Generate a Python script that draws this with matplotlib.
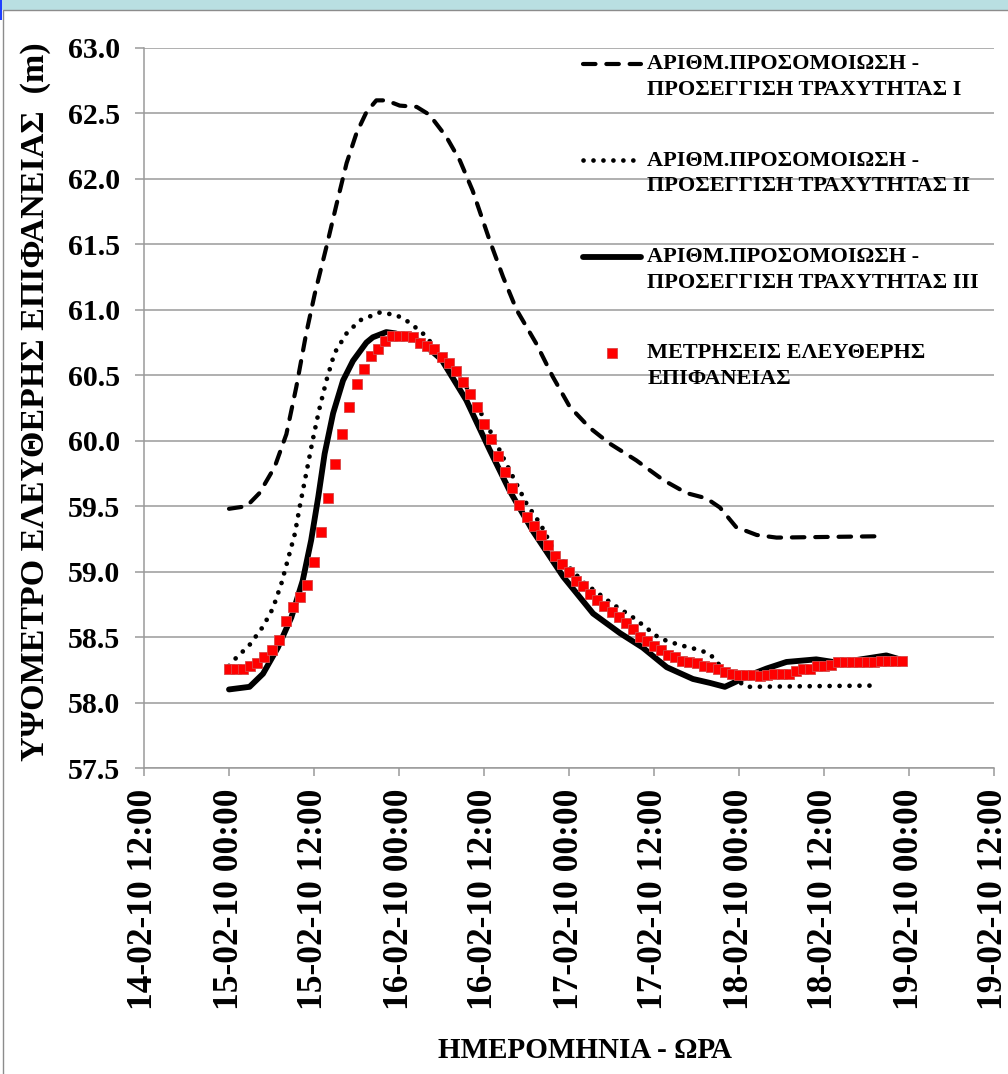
from datetime import datetime
import numpy as np
import matplotlib
matplotlib.use('Agg')
import matplotlib.pyplot as plt
import matplotlib.dates as mdates
from matplotlib.patches import Rectangle

plt.rcParams['font.family'] = ['Liberation Serif', 'DejaVu Serif']
plt.rcParams['font.weight'] = 'bold'

# hours after 15-02-10 00:00
h_rough1 = [0, 2.5, 4.3, 6.45, 8.1, 9.5, 10.9, 12.1, 13.75, 15.2, 16.6, 18, 19.4, 20.8,
            22.2, 24.1, 26.5, 28.3, 30.7, 32.6, 34.4, 36.8, 38.7, 40.6, 43.4, 45.7,
            48.1, 50.9, 53.7, 57.5, 61.3, 64.6, 67.4, 69.3, 71.6, 74.5, 77.3, 91.5]
z_rough1 = [59.48, 59.50, 59.60, 59.80, 60.05, 60.41, 60.82, 61.12, 61.48, 61.81, 62.12,
            62.35, 62.51, 62.60, 62.60, 62.56, 62.55, 62.49, 62.32, 62.14, 61.91, 61.53,
            61.25, 61.00, 60.74, 60.49, 60.26, 60.10, 59.98, 59.85, 59.70, 59.60, 59.56,
            59.49, 59.34, 59.28, 59.26, 59.27]

h_rough2 = [0, 0.8, 2.9, 4.8, 6.2, 7.4, 8.3, 9.3, 10, 10.9, 11.8, 12.7, 13.75, 14.9, 16.6,
            18.5, 21.3, 23.6, 25, 27.2, 30, 33, 36, 39, 42, 44, 46, 50, 54.2, 56.8, 58,
            60.8, 63.6, 66.5, 67.9, 70, 73, 91.6]
z_rough2 = [58.28, 58.33, 58.44, 58.58, 58.72, 58.91, 59.09, 59.29, 59.50, 59.75, 60.00,
            60.23, 60.46, 60.67, 60.82, 60.92, 60.98, 60.96, 60.92, 60.83, 60.66, 60.46,
            60.17, 59.84, 59.52, 59.36, 59.15, 58.92, 58.75, 58.66, 58.61, 58.49, 58.44,
            58.40, 58.37, 58.24, 58.12, 58.13]

h_rough3 = [0, 2.9, 4.8, 6.9, 8.8, 10.4, 11.6, 12.6, 13.5, 14.7, 16.1, 17.5, 19.4, 20.3,
            22.2, 23.5, 27, 30, 33.5, 36.8, 39.6, 42.9, 47.2, 51.4, 55.2, 58.4, 61.8,
            65.5, 67.9, 70, 71.6, 74, 75.9, 78.7, 82.9, 85.3, 88, 92.8, 94.7]
z_rough3 = [58.10, 58.12, 58.22, 58.42, 58.65, 58.93, 59.24, 59.57, 59.90, 60.21, 60.46,
            60.61, 60.75, 60.79, 60.83, 60.82, 60.76, 60.62, 60.31, 59.93, 59.62, 59.31,
            58.96, 58.68, 58.53, 58.42, 58.27, 58.18, 58.15, 58.12, 58.16, 58.22, 58.26,
            58.31, 58.33, 58.31, 58.32, 58.36, 58.33]

# hourly measurements, 0..95 h
z_meas = [58.26, 58.26, 58.26, 58.28, 58.30, 58.35, 58.40, 58.48, 58.62, 58.73,
          58.81, 58.90, 59.07, 59.30, 59.56, 59.82, 60.05, 60.26, 60.43, 60.55,
          60.65, 60.70, 60.76, 60.80, 60.80, 60.80, 60.79, 60.75, 60.72, 60.70,
          60.64, 60.59, 60.53, 60.45, 60.36, 60.26, 60.13, 60.01, 59.88, 59.76,
          59.64, 59.51, 59.42, 59.35, 59.28, 59.20, 59.12, 59.06, 59.00, 58.93,
          58.89, 58.83, 58.78, 58.74, 58.69, 58.65, 58.61, 58.56, 58.50, 58.47,
          58.43, 58.40, 58.36, 58.35, 58.32, 58.31, 58.30, 58.28, 58.27, 58.26,
          58.23, 58.22, 58.21, 58.21, 58.21, 58.20, 58.21, 58.22, 58.22, 58.22,
          58.24, 58.26, 58.26, 58.28, 58.28, 58.29, 58.31, 58.31, 58.31, 58.31,
          58.31, 58.31, 58.32, 58.32, 58.32, 58.32]
h_meas = np.arange(len(z_meas))

labels = ['ΑΡΙΘΜ.ΠΡΟΣΟΜΟΙΩΣΗ -\nΠΡΟΣΕΓΓΙΣΗ ΤΡΑΧΥΤΗΤΑΣ Ι',
          'ΑΡΙΘΜ.ΠΡΟΣΟΜΟΙΩΣΗ -\nΠΡΟΣΕΓΓΙΣΗ ΤΡΑΧΥΤΗΤΑΣ ΙΙ',
          'ΑΡΙΘΜ.ΠΡΟΣΟΜΟΙΩΣΗ -\nΠΡΟΣΕΓΓΙΣΗ ΤΡΑΧΥΤΗΤΑΣ ΙΙΙ',
          'ΜΕΤΡΗΣΕΙΣ ΕΛΕΥΘΕΡΗΣ\nΕΠΙΦΑΝΕΙΑΣ']

t0 = mdates.date2num(datetime(2010, 2, 15))


def totime(h):
    return t0 + np.asarray(h, dtype=float) / 24.0


W, H = 1008, 1074
fg = plt.figure(figsize=(W / 100, H / 100), dpi=100)
ax = fg.add_axes([144 / W, 1 - 768 / H, 850 / W, 720 / H])

l1, = ax.plot(totime(h_rough1), z_rough1, color='k', lw=3.0, ls=(0, (3.0, 2.6)),
              dash_capstyle='round', label=labels[0])
l2, = ax.plot(totime(h_rough2), z_rough2, color='k', lw=3.4, ls=(0, (0.01, 2.1)),
              dash_capstyle='round', label=labels[1])
l3, = ax.plot(totime(h_rough3), z_rough3, color='k', lw=4.2, solid_capstyle='round',
              label=labels[2])
l4, = ax.plot(totime(h_meas), z_meas, ls='none', marker='s', ms=6.6, mfc='#FF0000',
              mec='#D84848', mew=0.6, label=labels[3], zorder=5)

# %% axes
ax.set_ylim(57.5, 63.0)
ax.set_yticks(np.arange(57.5, 63.01, 0.5))
ax.yaxis.set_major_formatter(matplotlib.ticker.FormatStrFormatter('%.1f'))
ax.set_xlim(totime(-12), totime(108))
ax.xaxis.set_major_locator(mdates.HourLocator(byhour=[0, 12]))
ax.xaxis.set_major_formatter(mdates.DateFormatter('%d-%m-%y %H:%M'))
ax.grid(True, axis='y', color='#9A9A9A', lw=1.1)
ax.set_axisbelow(True)
for s in ('top', 'right'):
    ax.spines[s].set_visible(False)
for s in ('left', 'bottom'):
    ax.spines[s].set_color('#9A9A9A')
    ax.spines[s].set_linewidth(1.1)
ax.tick_params(axis='y', length=6.5, width=1.1, color='#9A9A9A', pad=11, labelsize=21.5)
ax.tick_params(axis='x', length=6, width=1.1, color='#9A9A9A', pad=9, labelsize=25.5,
               labelrotation=90)
for t in ax.get_xticklabels() + ax.get_yticklabels():
    t.set_fontweight('bold')

fg.text(36 / W, 1 - 402 / H, 'ΥΨΟΜΕΤΡΟ ΕΛΕΥΘΕΡΗΣ ΕΠΙΦΑΝΕΙΑΣ  (m)', rotation=90,
        ha='center', va='center', fontsize=24.5, fontweight='bold')
fg.text(585 / W, 1 - 1050 / H, 'ΗΜΕΡΟΜΗΝΙΑ - ΩΡΑ', ha='center', va='center',
        fontsize=21, fontweight='bold')

# legend: a blank first line keeps the handle level with the first text line
leg = ax.legend([l1, l2, l3, l4], [' \n' + s for s in labels], loc='upper left',
                bbox_to_anchor=(583 / W, 1 - 29 / H), bbox_transform=fg.transFigure,
                frameon=False, fontsize=16, handlelength=2.6, handletextpad=0.3,
                borderpad=0, borderaxespad=0, labelspacing=1.15, markerscale=1.0)
for t in leg.get_texts():
    t.set_linespacing(1.36)

# %% frame of the pasted picture
fg.patches.append(Rectangle((0, 1 - 10 / H), 1, 10 / H, transform=fg.transFigure,
                            facecolor='#B9DFE2', edgecolor='none'))
fg.patches.append(Rectangle((2.5 / W, -0.01), 1.1, 1 - 10 / H + 0.01,
                            transform=fg.transFigure, fill=False,
                            edgecolor='#8C8C8C', lw=1.0))
fg.patches.append(Rectangle((0, 1 - 20 / H), 2 / W, 20 / H, transform=fg.transFigure,
                            facecolor='#2040FF', edgecolor='none'))

fg.savefig('out.png', dpi=100, facecolor='white')
